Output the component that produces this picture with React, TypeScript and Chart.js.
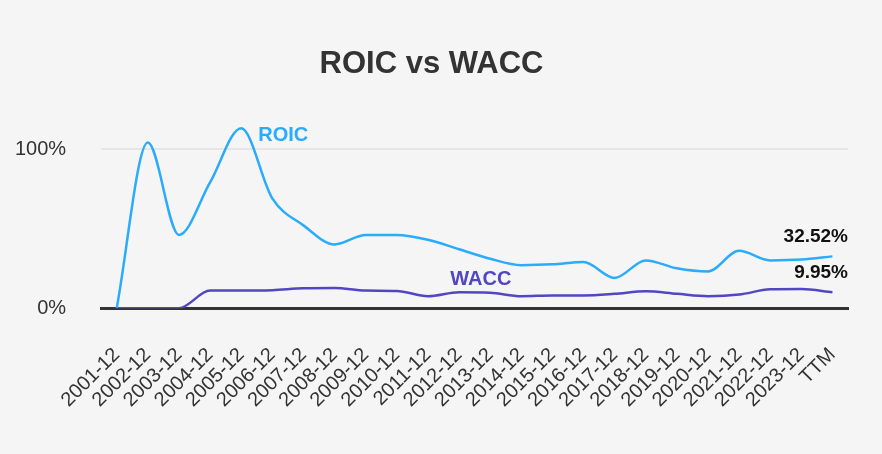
import React, { useEffect, useRef } from "react";
import { Chart, registerables } from "chart.js";

Chart.register(...registerables);

const categories = [
  "2001-12", "2002-12", "2003-12", "2004-12", "2005-12", "2006-12", "2007-12", "2008-12",
  "2009-12", "2010-12", "2011-12", "2012-12", "2013-12", "2014-12", "2015-12", "2016-12",
  "2017-12", "2018-12", "2019-12", "2020-12", "2021-12", "2022-12", "2023-12", "TTM",
];
const roic = [0, 104, 46, 79, 113, 69, 52, 40, 46, 46, 43, 37, 31, 27, 27.5, 29, 19, 30, 25, 23, 36, 30, 30.5, 32.52];
const wacc = [0, 0, 0, 11, 11, 11.3, 12.5, 12.7, 11, 10.8, 7.5, 10, 9.7, 7.5, 8, 8, 9, 10.6, 9, 7.5, 8.5, 11.8, 12, 9.95];
const yTicks = [0, 100];

const ROIC_COLOR = "#2aabfb";
const WACC_COLOR = "#5246c2";
const FONT = "'Liberation Sans', Arial, sans-serif";

const labelPlugin = {
  id: "labels",
  afterDatasetsDraw(chart: any) {
    const ctx = chart.ctx;
    const xs = chart.scales.x;
    const ys = chart.scales.y;
    const area = chart.chartArea;
    ctx.save();
    ctx.font = "bold 20px " + FONT;
    ctx.textBaseline = "middle";
    ctx.fillStyle = ROIC_COLOR;
    ctx.textAlign = "left";
    ctx.fillText("ROIC", xs.getPixelForValue(4) + 17, ys.getPixelForValue(roic[4]) + 7);
    ctx.fillStyle = WACC_COLOR;
    ctx.textAlign = "center";
    ctx.fillText("WACC", xs.getPixelForValue(11.7), ys.getPixelForValue(wacc[12]) - 13);
    const n = categories.length - 1;
    ctx.font = "bold 19px " + FONT;
    ctx.fillStyle = "#111";
    ctx.textAlign = "right";
    ctx.fillText(roic[n].toFixed(2) + "%", area.right, ys.getPixelForValue(roic[n]) - 20);
    ctx.fillText(wacc[n].toFixed(2) + "%", area.right, ys.getPixelForValue(wacc[n]) - 20);
    ctx.restore();
  },
};

export default function App() {
  const ref = useRef<HTMLCanvasElement>(null);
  useEffect(() => {
    document.body.style.margin = "0";
    document.body.style.background = "#f5f5f5";
    const chart = new Chart(ref.current!, {
      type: "line",
      data: {
        labels: categories,
        datasets: [
          { label: "ROIC", data: roic, borderColor: ROIC_COLOR, borderWidth: 2.5, pointRadius: 0, cubicInterpolationMode: "monotone", fill: false },
          { label: "WACC", data: wacc, borderColor: WACC_COLOR, borderWidth: 2.5, pointRadius: 0, cubicInterpolationMode: "monotone", fill: false },
        ],
      },
      options: {
        animation: false,
        responsive: false,
        layout: { padding: { left: 15, right: 34, top: 46, bottom: 7 } },
        plugins: {
          legend: { display: false },
          tooltip: { enabled: false },
          title: {
            display: true,
            text: "ROIC vs WACC",
            color: "#333",
            font: { size: 31, weight: "bold", family: FONT },
            padding: { top: 0, bottom: 26 },
          },
        },
        scales: {
          x: {
            offset: true,
            grid: { display: false, drawTicks: false },
            border: { display: true, color: "#333", width: 3 },
            afterFit: (s: any) => { s.paddingLeft = 0; s.paddingRight = 0; },
            ticks: {
              color: "#333",
              maxRotation: 45,
              minRotation: 45,
              autoSkip: false,
              padding: 35,
              font: { size: 20, family: FONT },
            },
          },
          y: {
            min: 0,
            max: 125,
            afterBuildTicks: (s: any) => { s.ticks = yTicks.map((v) => ({ value: v })); },
            afterFit: (s: any) => { s.width -= 35; },
            grid: { color: "#e6e6e6", lineWidth: 2, drawTicks: false },
            border: { display: false },
            ticks: {
              color: "#333",
              padding: 35,
              font: { size: 20, family: FONT },
              callback: (v: any) => v + "%",
            },
          },
        },
      },
      plugins: [labelPlugin],
    } as any);
    return () => chart.destroy();
  }, []);
  return (
    <div style={{ width: 882, height: 454, background: "#f5f5f5" }}>
      <canvas ref={ref} width={882} height={454} />
    </div>
  );
}
